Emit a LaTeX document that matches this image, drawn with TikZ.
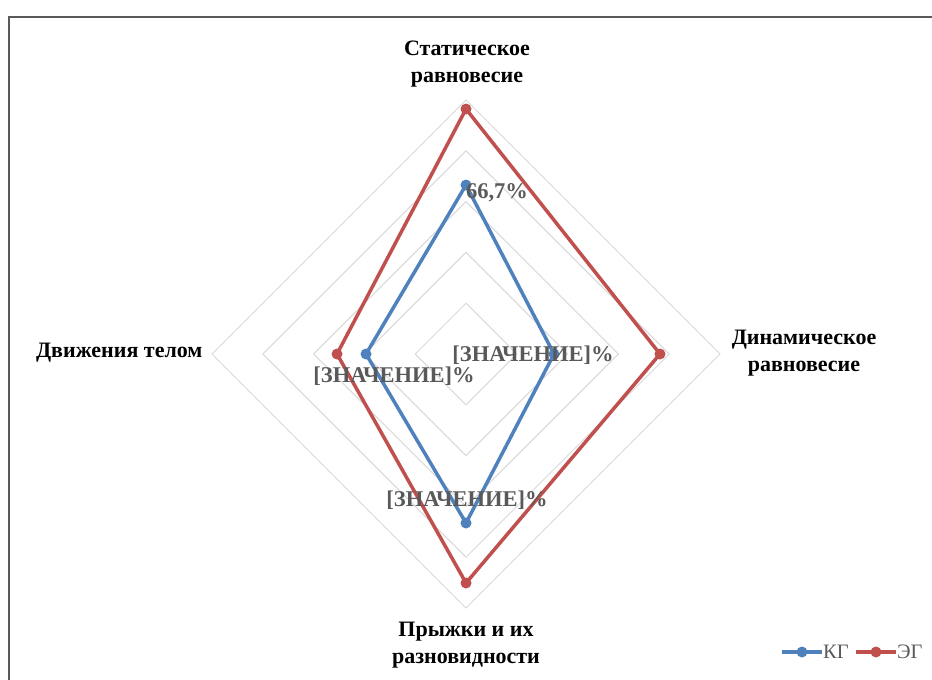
\documentclass[tikz,border=0pt]{standalone}
\usepackage{fontspec}
\setmainfont{Liberation Serif}
\usetikzlibrary{calc}
\definecolor{kgblue}{HTML}{4F81BD}
\definecolor{egred}{HTML}{C0504D}
\definecolor{gridgray}{HTML}{D9D9D9}
\definecolor{labelgray}{HTML}{595959}
\definecolor{framegray}{HTML}{5A5A5A}
\tikzset{
  series/.style={line width=3.5pt, line join=round},
  dot/.style={circle, fill, inner sep=0pt, minimum size=11pt},
  axislabel/.style={font=\bfseries\fontsize{22}{27}\selectfont, align=center},
  datalabel/.style={font=\bfseries\fontsize{22.5}{24}\selectfont, text=labelgray, inner sep=0pt},
  legendtext/.style={font=\fontsize{20.5}{22}\selectfont, text=labelgray, inner sep=1pt, anchor=west},
}
\begin{document}
\begin{tikzpicture}[x=1pt,y=-1pt]
  \useasboundingbox (0,0) rectangle (932,680);
  \draw[framegray, line width=1.5pt] (9,700) -- (9,17) -- (950,17);
  \coordinate (c) at (466,354);
  % grid
  \foreach \k in {1,...,5}{
    \pgfmathsetmacro{\r}{50.8*\k}
    \draw[gridgray, line width=1pt] ($(c)+(0,-\r)$) -- ($(c)+(\r,0)$) -- ($(c)+(0,\r)$) -- ($(c)+(-\r,0)$) -- cycle;
  }
  % series points
  \coordinate (kgT) at (466,185);
  \coordinate (kgR) at (554,354);
  \coordinate (kgB) at (466,523);
  \coordinate (kgL) at (366,354);
  \coordinate (egT) at (466,109);
  \coordinate (egR) at (660,354);
  \coordinate (egB) at (466,583);
  \coordinate (egL) at (337,354);
  \draw[series, kgblue] (kgT) -- (kgR) -- (kgB) -- (kgL) -- cycle;
  \draw[series, egred] (egT) -- (egR) -- (egB) -- (egL) -- cycle;
  \foreach \p in {kgT,kgR,kgB,kgL} \node[dot, kgblue] at (\p) {};
  \foreach \p in {egT,egR,egB,egL} \node[dot, egred] at (\p) {};
  % data labels
  \node[datalabel] (valT) at (497,193) {66,7\%};
  \node[datalabel] (valR) at (533,355) {[ЗНАЧЕНИЕ]\%};
  \node[datalabel] (valL) at (394,376) {[ЗНАЧЕНИЕ]\%};
  \node[datalabel] (valB) at (467,500) {[ЗНАЧЕНИЕ]\%};
  % axis labels
  \node[axislabel] (axT) at (467,64) {Статическое\\равновесие};
  \node[axislabel] (axR) at (804,353) {Динамическое\\равновесие};
  \node[axislabel, anchor=east] (axL) at (206,353) {Движения телом};
  \node[axislabel] (axB) at (466,645) {Прыжки и их\\разновидности};
  % legend
  \coordinate (kgA) at (782,652);
  \coordinate (kgZ) at (822,652);
  \coordinate (egA) at (856,652);
  \coordinate (egZ) at (896,652);
  \draw[series, kgblue] (kgA) -- (kgZ);
  \node[dot, kgblue] (kgM) at ($(kgA)!0.5!(kgZ)$) {};
  \node[legendtext] (kgN) at (kgZ) {КГ};
  \draw[series, egred] (egA) -- (egZ);
  \node[dot, egred] (egM) at ($(egA)!0.5!(egZ)$) {};
  \node[legendtext] (egN) at (egZ) {ЭГ};
\end{tikzpicture}
\end{document}
